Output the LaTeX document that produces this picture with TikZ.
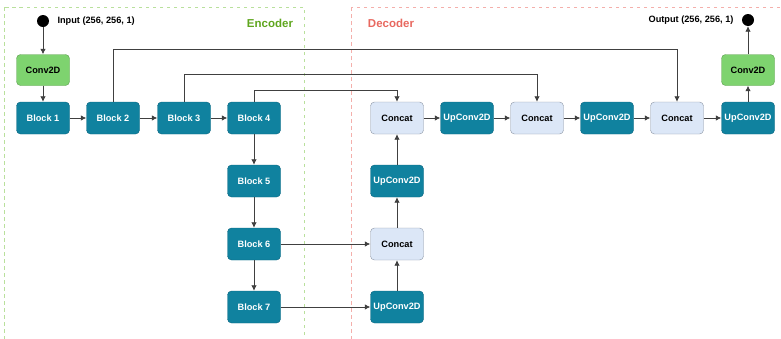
\documentclass[tikz,border=0pt]{standalone}
\usepackage{fontspec}
\setmainfont{Liberation Sans}
\usetikzlibrary{arrows.meta, positioning}

\definecolor{tealfill}{HTML}{10829F}
\definecolor{tealline}{HTML}{0B6580}
\definecolor{greenfill}{HTML}{7ED36F}
\definecolor{greenline}{HTML}{5C9E4E}
\definecolor{catfill}{HTML}{DCE7F7}
\definecolor{catline}{HTML}{8C96A4}
\definecolor{encgreen}{HTML}{5FA61E}
\definecolor{decred}{HTML}{E8685F}
\definecolor{encframe}{HTML}{B9E09C}
\definecolor{decframe}{HTML}{F4AFAB}

\begin{document}
\begin{tikzpicture}[
    x=1pt, y=-1pt,
    font=\fontsize{9.2}{10}\selectfont\bfseries,
    box/.style={draw, rectangle, rounded corners=4pt, minimum width=53pt, minimum height=32pt, inner sep=1pt, align=center},
    block/.style={box, fill=tealfill, draw=tealline, text=white},
    conv/.style={box, fill=greenfill, draw=greenline, minimum height=31pt},
    concat/.style={box, fill=catfill, draw=catline},
    terminal/.style={circle, fill=black, inner sep=0pt, minimum size=12pt},
    link/.style={draw=black!75, line width=0.8pt, -{Latex[length=5.5pt,width=5.5pt]}},
    frame/.style={dashed, dash pattern=on 3.5pt off 3.5pt, line width=0.7pt}
]
\useasboundingbox (0,0) rectangle (781,338);
\clip (0,0) rectangle (781,338);

% --- 1. ENCODER / DECODER FRAMES ---
\draw[frame, draw=encframe] (4,7) rectangle (304,350);
\draw[frame, draw=decframe] (351,7) rectangle (800,350);
\node[text=encgreen, font=\fontsize{11.5}{13}\selectfont\bfseries] (enclabel) at (270,23) {Encoder};
\node[text=decred, font=\fontsize{11.5}{13}\selectfont\bfseries] (declabel) at (391,23) {Decoder};

% --- 2. ENCODER ---
\node[terminal] (input) at (43,21) {};
\node[anchor=west] (inlabel) at (54,21) {Input (256, 256, 1)};
\node[conv] (convin) at (43,70) {Conv2D};
\node[block] (b1) at (43,118) {Block 1};
\node[block] (b2) at (113,118) {Block 2};
\node[block] (b3) at (184,118) {Block 3};
\node[block] (b4) at (254,118) {Block 4};
\node[block] (b5) at (254,181) {Block 5};
\node[block] (b6) at (254,244) {Block 6};
\node[block] (b7) at (254,307) {Block 7};

% --- 3. DECODER ---
\node[block] (up1) at (397,307) {UpConv2D};
\node[concat] (cat1) at (397,244) {Concat};
\node[block] (up2) at (397,181) {UpConv2D};
\node[concat] (cat2) at (397,118) {Concat};
\node[block] (up3) at (467,118) {UpConv2D};
\node[concat] (cat3) at (537,118) {Concat};
\node[block] (up4) at (607,118) {UpConv2D};
\node[concat] (cat4) at (677,118) {Concat};
\node[block] (up5) at (748,118) {UpConv2D};
\node[conv] (convout) at (748,70) {Conv2D};
\node[terminal] (output) at (748,20) {};
\node[anchor=east] (outlabel) at (737,20) {Output (256, 256, 1)};

% --- 4. SIGNAL FLOW ---
\draw[link] (input) -- (convin);
\draw[link] (convin) -- (b1);
\draw[link] (b1) -- (b2);
\draw[link] (b2) -- (b3);
\draw[link] (b3) -- (b4);
\draw[link] (b4) -- (b5);
\draw[link] (b5) -- (b6);
\draw[link] (b6) -- (b7);

\draw[link] (b7) -- (up1);
\draw[link] (up1) -- (cat1);
\draw[link] (b6) -- (cat1);
\draw[link] (cat1) -- (up2);
\draw[link] (up2) -- (cat2);
\draw[link] (cat2) -- (up3);
\draw[link] (up3) -- (cat3);
\draw[link] (cat3) -- (up4);
\draw[link] (up4) -- (cat4);
\draw[link] (cat4) -- (up5);
\draw[link] (up5) -- (convout);
\draw[link] (convout) -- (output);

% skip connections over the top
\draw[link] (b4.north) -- ++(0,-11) -| (cat2.north);
\draw[link] (b3.north) -- ++(0,-27) -| (cat3.north);
\draw[link] (b2.north) -- ++(0,-52) -| (cat4.north);

\end{tikzpicture}
\end{document}
